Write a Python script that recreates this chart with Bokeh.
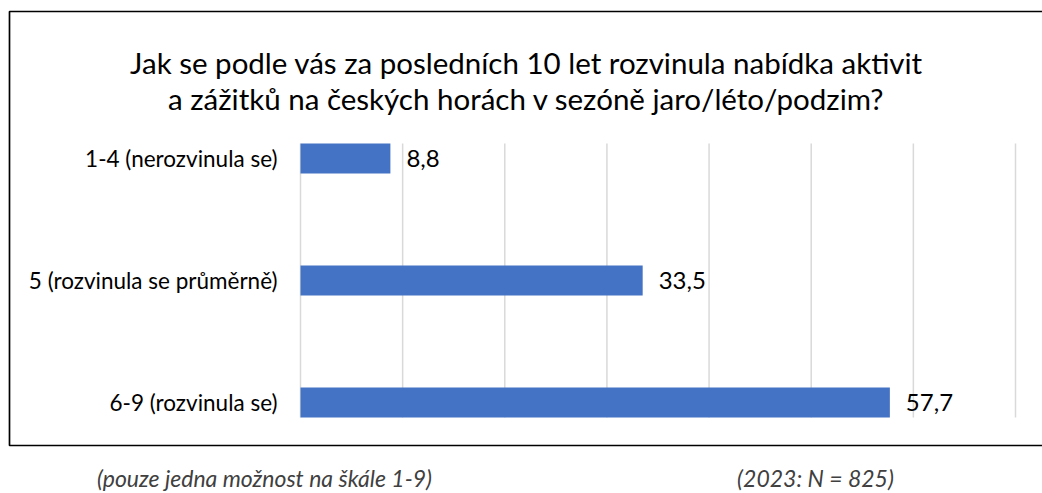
from bokeh.plotting import figure
from bokeh.models import (Range1d, ColumnDataSource, LabelSet, Label, BoxAnnotation)
from bokeh.core.properties import value
from bokeh.embed import file_html
from bokeh.resources import INLINE

# ---- data ----
categories = ["1-4 (nerozvinula se)", "5 (rozvinula se průměrně)", "6-9 (rozvinula se)"]
values = [8.8, 33.5, 57.7]
value_labels = ["8,8", "33,5", "57,7"]
x_ticks = [0, 10, 20, 30, 40, 50, 60, 70]
title_lines = ["Jak se podle vás za posledních 10 let rozvinula nabídka aktivit",
               "a zážitků na českých horách v sezóně jaro/léto/podzim?"]
note_left = "(pouze jedna možnost na škále 1-9)"
note_right = "(2023: N = 825)"

FONT = "Lato"
W, H = 1042, 493

# geometry: value axis 0..70 spans page x 300..1015; rows 122 px apart, first row centred at y=158
PX_PER_UNIT = 715 / 70
X0_PX = 300
x_start = -X0_PX / PX_PER_UNIT
x_end = (W - X0_PX) / PX_PER_UNIT
ROW = 122
Y0_PX = 158
y_top = -Y0_PX / ROW
y_bottom = (H - Y0_PX) / ROW
BAR_H = 30 / ROW

ypos = list(range(len(categories)))
src = ColumnDataSource(dict(y=ypos, v=values, lab=value_labels, cat=categories))
grid_src = ColumnDataSource(dict(x=x_ticks,
                                 y0=[-BAR_H / 2] * len(x_ticks),
                                 y1=[len(categories) - 1 + BAR_H / 2] * len(x_ticks)))

p = figure(width=W, height=H, output_backend="svg", toolbar_location=None,
           x_range=Range1d(x_start, x_end), y_range=Range1d(y_bottom, y_top),
           x_axis_location=None, y_axis_location=None,
           min_border=0)
p.outline_line_color = None
p.background_fill_color = "white"
p.border_fill_color = "white"
p.xgrid.visible = False
p.ygrid.visible = False

# vertical gridlines
p.segment(x0="x", x1="x", y0="y0", y1="y1", source=grid_src,
          line_color="#d9d9d9", line_width=1.5)

# bars
p.hbar(y="y", right="v", left=0, height=BAR_H, source=src,
       fill_color="#4472C4", line_color=None)

# category labels
p.text(x=0, y="y", text="cat", source=src, x_offset=-23,
       text_align="right", text_baseline="middle",
       text_font=value(FONT), text_font_size="22.5px", text_color="#000000")

# value labels
p.add_layout(LabelSet(x="v", y="y", text="lab", source=src, x_offset=16,
                      text_baseline="middle", text_align="left",
                      text_font=value(FONT), text_font_size=value("24px"),
                      text_color="#000000"))

# title (screen units: x from left edge, y from bottom edge)
for txt, yy in zip(title_lines, [H - 62, H - 98]):
    p.add_layout(Label(x=526, y=yy, x_units="screen", y_units="screen", text=txt,
                       text_align="center", text_baseline="alphabetic",
                       text_font=FONT, text_font_size="29.5px", text_color="#000000"))

# chart-area border
p.add_layout(BoxAnnotation(left=9, right=1060, top=11, bottom=445,
                           left_units="canvas", right_units="canvas",
                           top_units="canvas", bottom_units="canvas",
                           fill_color=None, fill_alpha=0,
                           line_color="#000000", line_alpha=1.0, line_width=1.7))

# footnotes
for txt, xx in [(note_left, 264), (note_right, 815)]:
    p.add_layout(Label(x=xx, y=2, x_units="screen", y_units="screen", text=txt,
                       text_align="center", text_baseline="bottom",
                       text_font=FONT, text_font_size="23px", text_font_style="italic",
                       text_color="#404040"))

open("out.html", "w").write(file_html(p, INLINE))
